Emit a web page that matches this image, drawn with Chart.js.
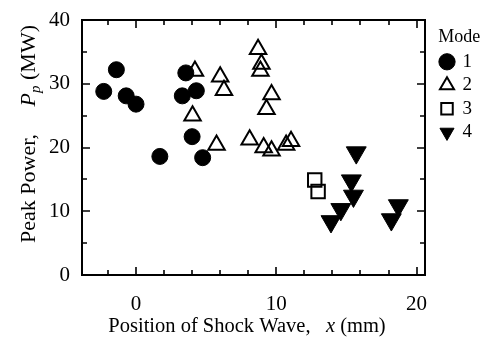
<!DOCTYPE html>
<html>
<head>
<meta charset="utf-8">
<script src="https://cdn.jsdelivr.net/npm/chart.js@4/dist/chart.umd.min.js"></script>
<style>
  html, body { margin: 0; padding: 0; background: #fff; }
</style>
</head>
<body>
<canvas id="chart" width="482" height="341"></canvas>
<script>
// values (x in mm, Pp in MW)
const modeLabels = ['1', '2', '3', '4'];

const mode1X = [-2.3, -1.4, -0.7, 0.0, 1.7, 3.3, 3.55, 4.0, 4.3, 4.75];
const mode1Y = [28.8, 32.2, 28.1, 26.8, 18.6, 28.1, 31.7, 21.7, 28.9, 18.4];

const mode2X = [4.2, 6.0, 6.27, 4.03, 5.74, 8.7, 8.94, 8.87, 9.66, 9.3, 8.1, 9.1, 9.66, 10.7, 11.05];
const mode2Y = [32.0, 31.1, 29.0, 25.0, 20.4, 35.4, 33.1, 32.0, 28.3, 26.0, 21.2, 20.0, 19.5, 20.4, 21.0];

const mode3X = [12.74, 12.98];
const mode3Y = [14.9, 13.1];

const mode4X = [15.7, 15.35, 15.5, 14.6, 13.9, 18.7, 18.2];
const mode4Y = [19.2, 14.8, 12.4, 10.3, 8.4, 10.9, 8.7];

const xTicks = [0, 10, 20];
const yTicks = [0, 10, 20, 30, 40];

const FONT = "'Liberation Serif', 'Times New Roman', serif";
Chart.defaults.font.family = FONT;
Chart.defaults.color = '#000';

const toPoints = (xs, ys) => xs.map((v, i) => ({ x: v, y: ys[i] }));

// box frame with inward ticks on all four sides
const frameTicks = {
  id: 'frameTicks',
  beforeDatasetsDraw(chart) {
    const { ctx, chartArea: a, scales: { x, y } } = chart;
    ctx.save();
    ctx.strokeStyle = '#000';
    ctx.lineWidth = 2;
    ctx.strokeRect(a.left, a.top, a.right - a.left, a.bottom - a.top);
    ctx.lineWidth = 1.6;
    ctx.beginPath();
    for (let v = Math.ceil(x.min / 2) * 2; v <= x.max; v += 2) {
      const px = Math.round(x.getPixelForValue(v));
      const len = xTicks.includes(v) ? 8 : 5;
      ctx.moveTo(px, a.bottom); ctx.lineTo(px, a.bottom - len);
      ctx.moveTo(px, a.top); ctx.lineTo(px, a.top + len);
    }
    for (let v = 5; v < y.max; v += 5) {
      const py = Math.round(y.getPixelForValue(v));
      const len = yTicks.includes(v) ? 8 : 5;
      ctx.moveTo(a.left, py); ctx.lineTo(a.left + len, py);
      ctx.moveTo(a.right, py); ctx.lineTo(a.right - len, py);
    }
    ctx.stroke();
    ctx.restore();
  }
};

// axis titles with italic symbols
function drawPieces(ctx, pieces, cx, cy) {
  let total = 0;
  pieces.forEach(p => { ctx.font = p.font; p.w = ctx.measureText(p.t).width; total += p.w; });
  let x = cx - total / 2;
  pieces.forEach(p => {
    ctx.font = p.font;
    ctx.fillText(p.t, x, cy + (p.dy || 0));
    x += p.w;
  });
}

const axisTitles = {
  id: 'axisTitles',
  afterDraw(chart) {
    const { ctx } = chart;
    ctx.save();
    ctx.fillStyle = '#000';
    ctx.textBaseline = 'alphabetic';
    ctx.textAlign = 'left';
    drawPieces(ctx, [
      { t: 'Position of Shock Wave,   ', font: `20.5px ${FONT}` },
      { t: 'x', font: `italic 20.5px ${FONT}` },
      { t: ' (mm)', font: `20.5px ${FONT}` }
    ], 247, 332);
    ctx.translate(35, 134);
    ctx.rotate(-Math.PI / 2);
    drawPieces(ctx, [
      { t: 'Peak Power,     ', font: `22px ${FONT}` },
      { t: 'P', font: `italic 22px ${FONT}` },
      { t: 'p', font: `italic 15px ${FONT}`, dy: 5 },
      { t: ' (MW)', font: `22px ${FONT}` }
    ], 0, 0);
    ctx.restore();
  }
};

new Chart(document.getElementById('chart'), {
  type: 'scatter',
  data: {
    datasets: [
      {
        label: modeLabels[0], data: toPoints(mode1X, mode1Y),
        pointStyle: 'circle', pointRadius: 8, pointHoverRadius: 8,
        backgroundColor: '#000', borderColor: '#000', borderWidth: 1
      },
      {
        label: modeLabels[1], data: toPoints(mode2X, mode2Y),
        pointStyle: 'triangle', pointRadius: 9.5, pointHoverRadius: 9.5,
        backgroundColor: 'rgba(0,0,0,0)', borderColor: '#000', borderWidth: 2
      },
      {
        label: modeLabels[2], data: toPoints(mode3X, mode3Y),
        pointStyle: 'rect', pointRadius: 9.5, pointHoverRadius: 9.5,
        backgroundColor: 'rgba(0,0,0,0)', borderColor: '#000', borderWidth: 2
      },
      {
        label: modeLabels[3], data: toPoints(mode4X, mode4Y),
        pointStyle: 'triangle', pointRotation: 180, pointRadius: 11.5, pointHoverRadius: 11.5,
        backgroundColor: '#000', borderColor: '#000', borderWidth: 1
      }
    ]
  },
  options: {
    responsive: false,
    animation: false,
    devicePixelRatio: 1,
    layout: { padding: { top: 20, right: 0, bottom: 0, left: 0 } },
    scales: {
      x: {
        type: 'linear', min: -3.85, max: 20.6,
        grid: { display: false }, border: { display: false },
        afterBuildTicks: s => { s.ticks = xTicks.map(v => ({ value: v })); },
        afterFit: s => { s.height = 66; },
        ticks: { font: { size: 21 }, padding: 9, color: '#000', maxRotation: 0 }
      },
      y: {
        type: 'linear', min: 0, max: 40,
        grid: { display: false }, border: { display: false },
        afterBuildTicks: s => { s.ticks = yTicks.map(v => ({ value: v })); },
        afterFit: s => { s.width = 82; },
        ticks: { font: { size: 21 }, padding: 4, color: '#000' }
      },
      gap: {
        type: 'linear', position: 'right',
        grid: { display: false }, border: { display: false },
        ticks: { display: false },
        afterFit: s => { s.width = 11.5; }
      }
    },
    plugins: {
      tooltip: { enabled: false },
      legend: {
        position: 'right', align: 'start',
        title: { display: true, text: 'Mode', font: { size: 18, lineHeight: 1.1 }, padding: { top: 8, bottom: 0 }, color: '#000' },
        labels: {
          usePointStyle: true, boxWidth: 12, boxHeight: 11.5, padding: 4.5,
          font: { size: 19 }, color: '#000'
        }
      }
    }
  },
  plugins: [frameTicks, axisTitles]
});
</script>
</body>
</html>
